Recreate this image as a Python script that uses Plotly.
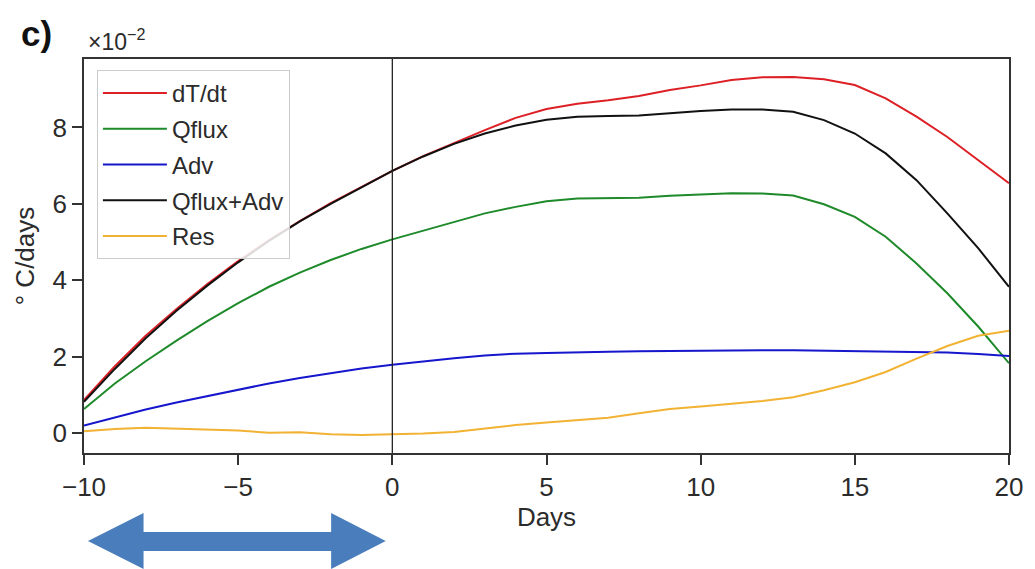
import plotly.graph_objects as go

days = list(range(-10, 21))

dTdt = [0.87, 1.75, 2.55, 3.25, 3.90, 4.50, 5.05, 5.55, 6.02, 6.45, 6.86,
        7.25, 7.60, 7.93, 8.25, 8.48, 8.62, 8.71, 8.82, 8.98, 9.10,
        9.24, 9.31, 9.32, 9.26, 9.11, 8.76, 8.28, 7.75, 7.15, 6.54]
qflux = [0.63, 1.30, 1.88, 2.42, 2.93, 3.40, 3.83, 4.20, 4.53, 4.82, 5.07,
         5.30, 5.53, 5.75, 5.92, 6.07, 6.14, 6.15, 6.16, 6.21, 6.25,
         6.28, 6.27, 6.22, 5.99, 5.66, 5.14, 4.44, 3.66, 2.79, 1.83]
adv = [0.20, 0.42, 0.62, 0.80, 0.97, 1.14, 1.30, 1.44, 1.57, 1.69, 1.79,
       1.88, 1.96, 2.03, 2.08, 2.10, 2.12, 2.13, 2.14, 2.15, 2.16,
       2.17, 2.17, 2.17, 2.16, 2.15, 2.14, 2.13, 2.11, 2.07, 2.02]
qflux_adv = [0.82, 1.68, 2.48, 3.20, 3.86, 4.47, 5.03, 5.54, 6.00, 6.44, 6.86,
             7.24, 7.57, 7.84, 8.05, 8.20, 8.28, 8.30, 8.31, 8.37, 8.43,
             8.47, 8.47, 8.41, 8.19, 7.84, 7.32, 6.62, 5.75, 4.84, 3.83]
res = [0.05, 0.11, 0.14, 0.12, 0.09, 0.07, 0.01, 0.02, -0.03, -0.05, -0.03,
       -0.01, 0.03, 0.12, 0.21, 0.28, 0.34, 0.40, 0.52, 0.63, 0.70,
       0.76, 0.84, 0.94, 1.12, 1.33, 1.60, 1.95, 2.28, 2.55, 2.68]

series = [
    ("dT/dt", dTdt, "#dd2026"),
    ("Qflux", qflux, "#1e8a2a"),
    ("Adv", adv, "#1616cc"),
    ("Qflux+Adv", qflux_adv, "#111111"),
    ("Res", res, "#f2b233"),
]

FONT = "Liberation Sans, Arial, sans-serif"
TXT = "#2b2b2b"

fig = go.Figure()
for name, vals, col in series:
    fig.add_trace(go.Scatter(x=days, y=vals, mode="lines", name=name,
                             legendgroup=name,
                             line=dict(color=col, width=2)))

W, H = 1035, 569
L, R, T, B = 84, 19, 59, 116
pw, ph = W - L - R, H - T - B


def px(x):
    return (x - L) / pw


def py(y):
    return (H - B - y) / ph


# vertical line at day 0
fig.add_shape(type="line", xref="x", yref="paper", x0=0, x1=0, y0=0, y1=1,
              line=dict(color="#222222", width=1.3))

# double-headed arrow below the axis
pts = [(88, 541), (144, 513), (144, 532), (333, 532), (333, 513), (388, 541),
       (333, 569), (333, 551), (144, 551), (144, 569)]
path = "M " + " L ".join(f"{px(a):.5f},{py(b):.5f}" for a, b in pts) + " Z"
fig.add_shape(type="path", xref="paper", yref="paper", path=path,
              fillcolor="#4a7dbb", line=dict(width=0))

fig.add_annotation(text="<b>c)</b>", xref="paper", yref="paper",
                   x=px(19), y=py(34), xanchor="left", yanchor="middle",
                   showarrow=False, font=dict(family=FONT, size=35, color="#111"))
fig.add_annotation(text="×10<sup>−2</sup>", xref="paper", yref="paper",
                   x=px(86), y=py(57), xanchor="left", yanchor="bottom",
                   showarrow=False, font=dict(family=FONT, size=23, color=TXT))

fig.update_layout(
    width=W, height=H, autosize=False,
    margin=dict(l=L, r=R, t=T, b=B),
    paper_bgcolor="white", plot_bgcolor="white",
    font=dict(family=FONT, size=26, color=TXT),
    showlegend=True,
    legend=dict(x=px(97), y=py(70), xanchor="left", yanchor="top",
                bgcolor="rgba(255,255,255,0.85)", bordercolor="#cccccc",
                borderwidth=1, font=dict(family=FONT, size=24, color=TXT),
                itemwidth=64, tracegroupgap=1.5),
    xaxis=dict(range=[-10, 20], tickmode="array", tickvals=[-10, -5, 0, 5, 10, 15, 20],
               ticks="outside", ticklen=10, tickwidth=1.5, tickcolor="#333",
               showline=True, linecolor="#333", linewidth=1.6, mirror=True,
               showgrid=False, zeroline=False,
               title=dict(text="Days", standoff=6, font=dict(size=26)),
               tickfont=dict(size=26)),
    yaxis=dict(range=[-0.52, 9.79], tickmode="array", tickvals=[0, 2, 4, 6, 8],
               ticks="outside", ticklen=10, tickwidth=1.5, tickcolor="#333",
               showline=True, linecolor="#333", linewidth=1.6, mirror=True,
               showgrid=False, zeroline=False,
               title=dict(text="° C/days", standoff=10, font=dict(size=26)),
               tickfont=dict(size=26)),
)

fig.write_html("out.html")
